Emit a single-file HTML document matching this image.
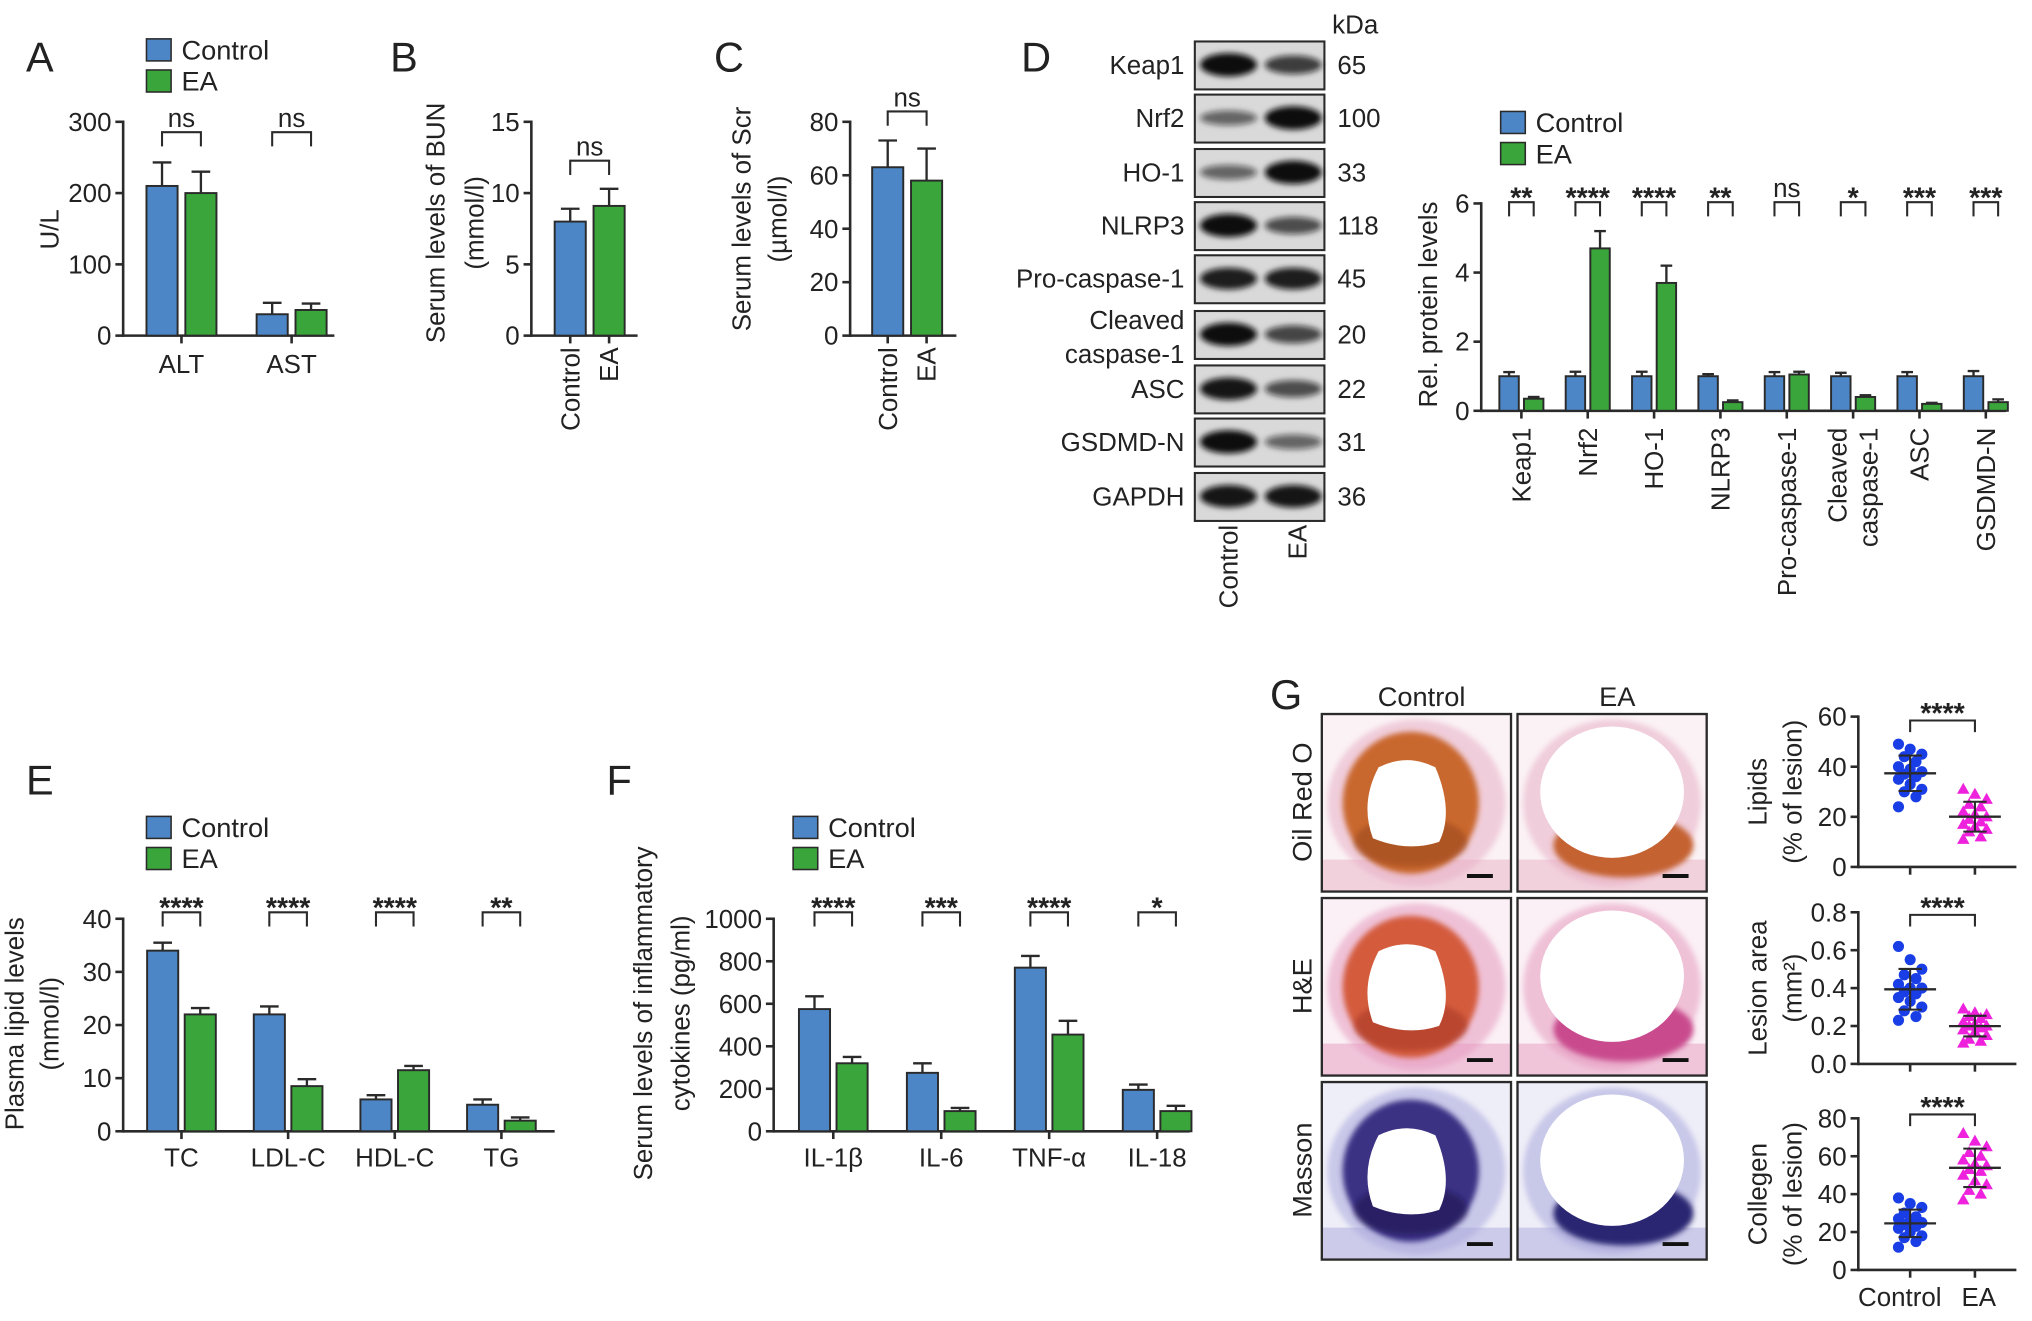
<!DOCTYPE html>
<html><head><meta charset="utf-8"><style>
body{margin:0;background:#fff}svg{display:block}
text{font-family:"Liberation Sans",Arial,sans-serif;fill:#222}
</style></head><body>
<svg id="fig" width="2032" height="1321" viewBox="0 0 1568 1019.4" xmlns="http://www.w3.org/2000/svg">
<defs><filter id="blur" x="-30%" y="-80%" width="160%" height="260%"><feGaussianBlur stdDeviation="2.2"/></filter>
<filter id="blur2"><feGaussianBlur stdDeviation="2"/></filter></defs>
</svg>
<script>
// ---------- data ----------
const aCats=['ALT','AST'];
const aCtrl=[210,30];
const aEA=[200,36];
const aCtrlErr=[33,16];
const aEAErr=[30,9];
const aSig=['ns','ns'];
const aTicks=[0,100,200,300];

const bCtrl=[8.0];
const bEA=[9.1];
const bCtrlErr=[0.9];
const bEAErr=[1.2];
const bSig=['ns'];
const bTicks=[0,5,10,15];

const cCtrl=[63];
const cEA=[58];
const cCtrlErr=[10];
const cEAErr=[12];
const cSig=['ns'];
const cTicks=[0,20,40,60,80];

const dCats=['Keap1','Nrf2','HO-1','NLRP3','Pro-caspase-1','Cleaved\ncaspase-1','ASC','GSDMD-N'];
const dCtrl=[1,1,1,1,1,1,1,1];
const dEA=[0.35,4.7,3.7,0.25,1.05,0.4,0.2,0.25];
const dCtrlErr=[0.12,0.13,0.13,0.06,0.12,0.1,0.12,0.15];
const dEAErr=[0.05,0.5,0.5,0.05,0.08,0.05,0.03,0.08];
const dSig=['**','****','****','**','ns','*','***','***'];
const dTicks=[0,2,4,6];

const blotProteins=['Keap1','Nrf2','HO-1','NLRP3','Pro-caspase-1','Cleaved\ncaspase-1','ASC','GSDMD-N','GAPDH'];
const blotKDa=['65','100','33','118','45','20','22','31','36'];
const blotCtrlInt=[1.0,0.45,0.45,1.0,0.9,1.0,0.95,1.0,0.95];
const blotEAInt=[0.7,1.0,1.0,0.6,0.9,0.65,0.6,0.45,0.95];

const eCats=['TC','LDL-C','HDL-C','TG'];
const eCtrl=[34,22,6,5];
const eEA=[22,8.5,11.5,2];
const eCtrlErr=[1.5,1.5,0.8,1.0];
const eEAErr=[1.2,1.3,0.8,0.6];
const eSig=['****','****','****','**'];
const eTicks=[0,10,20,30,40];

const fCats=['IL-1β','IL-6','TNF-α','IL-18'];
const fCtrl=[575,275,770,195];
const fEA=[320,95,455,95];
const fCtrlErr=[60,45,55,25];
const fEAErr=[30,15,65,25];
const fSig=['****','***','****','*'];
const fTicks=[0,200,400,600,800,1000];

const lipCtrl=[49,47,45,44,42,40,39,38,37,36,35,33,31,30,28,24];
const lipEA=[31,29,27,25,24,22,21,20,19,18,17,16,15,14,12,11];
const lipTicks=[0,20,40,60];
const lesCtrl=[0.62,0.55,0.50,0.47,0.45,0.42,0.40,0.40,0.38,0.37,0.35,0.33,0.30,0.28,0.25,0.23];
const lesEA=[0.29,0.27,0.26,0.25,0.24,0.22,0.21,0.20,0.20,0.19,0.18,0.17,0.15,0.13,0.12,0.11];
const lesTicks=[0,0.2,0.4,0.6,0.8];
const colCtrl=[38,35,33,30,28,27,26,25,24,23,22,20,18,17,15,12];
const colEA=[72,68,65,62,60,58,56,55,53,52,50,47,45,42,40,37];
const colTicks=[0,20,40,60,80];

// ---------- helpers ----------
const NS='http://www.w3.org/2000/svg';
const svg=document.getElementById('fig');
const BLUE='#4d86c6',GREEN='#3aa53a',INK='#2a2a2a';
function el(p,tag,attrs,t){const e=document.createElementNS(NS,tag);for(const k in attrs)e.setAttribute(k,attrs[k]);if(t!==undefined)e.textContent=t;p.appendChild(e);return e;}
function txt(p,x,y,s,size,anchor,name,rot,weight){
  const t=el(p,'text',{x:x,y:y,'font-size':size,'text-anchor':anchor||'middle'},s);
  if(rot)t.setAttribute('transform','rotate('+rot+' '+x+' '+y+')');
  if(weight)t.setAttribute('font-weight',weight);
  
  
  return t;}
function ln(p,x1,y1,x2,y2,name,w){
  const l=el(p,'line',{x1:x1,y1:y1,x2:x2,y2:y2,stroke:INK,'stroke-width':w||2});
  
  
  return l;}
function legend(x,y,name){
  const g=el(svg,'g',{});
  
  
  const r1=el(g,'rect',{x:x,y:y,width:19,height:17,fill:BLUE,stroke:INK,'stroke-width':1.2});
  
  
  txt(g,x+27,y+16,'Control',21,'start','legend-label-control');
  const r2=el(g,'rect',{x:x,y:y+24,width:19,height:17,fill:GREEN,stroke:INK,'stroke-width':1.2});
  
  
  txt(g,x+27,y+40,'EA',21,'start','legend-label-ea');
}
function rotTitle(p,lines,xs,cy,name){
  lines.forEach((s,i)=>{txt(p,xs[i]+7,cy,s,20,'middle',name+'-line'+(i+1),-90);});
}

function barChart(o){
  const g=el(svg,'g',{});
  
  
  const Y=v=>o.yZero-(v/o.max)*(o.yZero-o.yTop);
  ln(g,o.x0,o.yTop-1,o.x0,o.yZero+1,'y-axis');
  ln(g,o.x0,o.yZero,o.x1,o.yZero,'x-axis');
  o.ticks.forEach(v=>{
    ln(g,o.x0-6,Y(v),o.x0,Y(v),'y-tick');
    txt(g,o.x0-9,Y(v)+7,String(v),20,'end','y-tick-label');
  });
  o.ctrl.forEach((v,i)=>{
    const c=o.first+i*o.step;
    const cx1=c-o.gap/2-o.w/2, cx2=c+o.gap/2+o.w/2;
    [[cx1,v,o.ce[i],BLUE,'control'],[cx2,o.ea[i],o.ee[i],GREEN,'ea']].forEach(b=>{
      const top=Y(b[1]);
      ln(g,b[0],top,b[0],Y(b[1]+b[2]),'error-bar-'+b[4],1.8);
      ln(g,b[0]-o.w*0.3,Y(b[1]+b[2]),b[0]+o.w*0.3,Y(b[1]+b[2]),'error-cap-'+b[4],1.8);
      const r=el(g,'rect',{x:b[0]-o.w/2,y:top,width:o.w,height:o.yZero-top,fill:b[3],stroke:INK,'stroke-width':1.5});
      
      
    });
    const p=el(g,'path',{d:'M'+cx1+','+(o.brY+11)+'V'+o.brY+'H'+cx2+'V'+(o.brY+11),fill:'none',stroke:INK,'stroke-width':1.6});
    
    
    const s=o.sig[i];
    if(s==='ns')txt(g,c,o.brY-4,s,20,'middle','significance-label');
    else txt(g,c,o.brY+4,s,22,'middle','significance-label',0,'bold');
    if(o.barLabels){
      [[cx1,'Control'],[cx2,'EA']].forEach(b=>{
        ln(g,b[0],o.yZero,b[0],o.yZero+6,'x-tick');
        txt(g,b[0]+7,o.catY,b[1],20,'end','x-label-'+b[1].toLowerCase(),-90);
      });
    }else{
      ln(g,c,o.yZero,c,o.yZero+6,'x-tick');
      const parts=o.cats[i].split('\n');
      if(o.rotCats){
        if(parts.length===1)txt(g,c+7,o.catY,parts[0],20,'end','x-label',-90);
        else parts.forEach((s2,k)=>txt(g,c-5+k*24,o.catY,s2,20,'end','x-label',-90));
      }else txt(g,c,o.catY,parts[0],20,'middle','x-label');
    }
  });
  return g;
}

// ---------- panel letters ----------
[['A',20,55],['B',301,55],['C',551,55],['D',788,55],['E',20,613],['F',468,613],['G',980,547]].forEach(a=>{
  txt(svg,a[1],a[2],a[0],32,'start','panel-label-'+a[0].toLowerCase());
});

// ---------- A ----------
legend(113,30,'legend-a');
const gA=barChart({name:'chart-a',x0:95,x1:258,yZero:259,yTop:94,max:300,ticks:aTicks,cats:aCats,ctrl:aCtrl,ea:aEA,ce:aCtrlErr,ee:aEAErr,sig:aSig,first:140,step:85,w:24,gap:6,brY:102,catY:288});
rotTitle(gA,['U/L'],[38],177,'y-axis-title-a');
// ---------- B ----------
const gB=barChart({name:'chart-b',x0:410,x1:492,yZero:259,yTop:94,max:15,ticks:bTicks,cats:['x'],ctrl:bCtrl,ea:bEA,ce:bCtrlErr,ee:bEAErr,sig:bSig,first:455,step:0,w:24,gap:6,brY:124,catY:268,barLabels:true});
rotTitle(gB,['Serum levels of BUN','(mmol/l)'],[336,366],172,'y-axis-title-b');
// ---------- C ----------
const gC=barChart({name:'chart-c',x0:656,x1:738,yZero:259,yTop:94,max:80,ticks:cTicks,cats:['x'],ctrl:cCtrl,ea:cEA,ce:cCtrlErr,ee:cEAErr,sig:cSig,first:700,step:0,w:24,gap:6,brY:86,catY:268,barLabels:true});
rotTitle(gC,['Serum levels of Scr','(µmol/l)'],[572,600],169,'y-axis-title-c');

// ---------- D blot ----------
const gBlot=el(svg,'g',{});


txt(gBlot,1028,26,'kDa',20,'start','kda-header');
const rowY=[50,91,133,174,215,258,300,341,383];
blotProteins.forEach((p,i)=>{
  const y=rowY[i];
  const bg=el(gBlot,'rect',{x:922,y:y-18,width:100,height:37,fill:'#d9d9d9',stroke:INK,'stroke-width':1.6});
  
  
  [[948,blotCtrlInt[i],'control'],[998,blotEAInt[i],'ea']].forEach(b=>{
    const e=el(gBlot,'ellipse',{cx:b[0],cy:y,rx:22,ry:3+6*b[1],fill:'#111','fill-opacity':0.25+0.75*b[1],filter:'url(#blur)'});
    
    
  });
  const parts=p.split('\n');
  if(parts.length===1)txt(gBlot,914,y+7,p,20,'end','protein-label');
  else{txt(gBlot,914,y-4,parts[0],20,'end','protein-label');txt(gBlot,914,y+22,parts[1],20,'end','protein-label');}
  txt(gBlot,1032,y+7,blotKDa[i],20,'start','kda-label');
});
txt(gBlot,955,405,'Control',20,'end','blot-lane-control',-90);
txt(gBlot,1008,405,'EA',20,'end','blot-lane-ea',-90);

// ---------- D chart ----------
legend(1158,86,'legend-d');
const gD=barChart({name:'chart-d',x0:1143,x1:1548,yZero:317,yTop:157,max:6,ticks:dTicks,cats:dCats,ctrl:dCtrl,ea:dEA,ce:dCtrlErr,ee:dEAErr,sig:dSig,first:1174,step:51.2,w:15,gap:4,brY:156,catY:330,rotCats:true});
rotTitle(gD,['Rel. protein levels'],[1102],235,'y-axis-title-d');

// ---------- E ----------
legend(113,630,'legend-e');
const gE=barChart({name:'chart-e',x0:95,x1:428,yZero:873,yTop:709,max:40,ticks:eTicks,cats:eCats,ctrl:eCtrl,ea:eEA,ce:eCtrlErr,ee:eEAErr,sig:eSig,first:140,step:82.3,w:24,gap:5,brY:704,catY:900});
rotTitle(gE,['Plasma lipid levels','(mmol/l)'],[11,38],790,'y-axis-title-e');
// ---------- F ----------
legend(612,630,'legend-f');
const gF=barChart({name:'chart-f',x0:597,x1:918,yZero:873,yTop:709,max:1000,ticks:fTicks,cats:fCats,ctrl:fCtrl,ea:fEA,ce:fCtrlErr,ee:fEAErr,sig:fSig,first:643,step:83.3,w:24,gap:5,brY:704,catY:900});
rotTitle(gF,['Serum levels of inflammatory','cytokines (pg/ml)'],[496,525],782,'y-axis-title-f');

// ---------- G histology ----------
const gH=el(svg,'g',{});


txt(gH,1097,545,'Control',21,'middle','column-label-control');
txt(gH,1248,545,'EA',21,'middle','column-label-ea');
const stains=[
  {n:'Oil Red O',bg:'#fbf2f5',tis:'#e8afc4',pl:'#c9682f',pl2:'#c46230',dk:'#9c4a1e'},
  {n:'H&E',bg:'#fbf0f5',tis:'#e59ac0',pl:'#d45c3e',pl2:'#c94c8e',dk:'#a8362a'},
  {n:'Masson',bg:'#eeeef8',tis:'#a9a7dc',pl:'#3a3284',pl2:'#2c2672',dk:'#1c1650'}];
const rowsY=[551,693,835];
stains.forEach((s,r)=>{
  txt(gH,1012,rowsY[r]+68,s.n,21,'middle','row-label-'+r,-90);
  [[1020,'control'],[1171,'ea']].forEach((c,k)=>{
    const x=c[0],y=rowsY[r],w=146,h=137;
    const cell=el(gH,'g',{});
    
    
    el(cell,'rect',{x:x,y:y,width:w,height:h,fill:s.bg});
    el(cell,'ellipse',{cx:x+w*0.5,cy:y+h*0.5,rx:w*0.47,ry:h*0.47,fill:s.tis,'fill-opacity':0.55,filter:'url(#blur2)'});
    el(cell,'rect',{x:x,y:y+h*0.82,width:w,height:h*0.18,fill:s.tis,'fill-opacity':0.5});
    if(k===0){
      el(cell,'ellipse',{cx:x+w*0.47,cy:y+h*0.5,rx:w*0.36,ry:h*0.4,fill:s.pl,filter:'url(#blur2)'});
      el(cell,'ellipse',{cx:x+w*0.47,cy:y+h*0.72,rx:w*0.3,ry:h*0.14,fill:s.dk,'fill-opacity':0.6,filter:'url(#blur2)'});
      el(cell,'path',{d:'M'+(x+w*0.3)+','+(y+h*0.3)+'Q'+(x+w*0.45)+','+(y+h*0.22)+' '+(x+w*0.6)+','+(y+h*0.3)+'Q'+(x+w*0.7)+','+(y+h*0.55)+' '+(x+w*0.62)+','+(y+h*0.72)+'Q'+(x+w*0.45)+','+(y+h*0.78)+' '+(x+w*0.27)+','+(y+h*0.7)+'Q'+(x+w*0.2)+','+(y+h*0.5)+' '+(x+w*0.3)+','+(y+h*0.3)+'Z',fill:'#fff'});
    }else{
      el(cell,'ellipse',{cx:x+w*0.56,cy:y+h*0.74,rx:w*0.37,ry:h*0.18,fill:s.pl2,filter:'url(#blur2)'});
      el(cell,'ellipse',{cx:x+w*0.5,cy:y+h*0.44,rx:w*0.38,ry:h*0.37,fill:'#fff'});
    }
    el(cell,'line',{x1:x+w-34,y1:y+h-12,x2:x+w-14,y2:y+h-12,stroke:'#111','stroke-width':3});
    el(cell,'rect',{x:x,y:y,width:w,height:h,fill:'none',stroke:INK,'stroke-width':1.8});
  });
});

// ---------- G scatter ----------
function scatter(o){
  const g=el(svg,'g',{});
  
  
  const Y=v=>o.yZero-(v/o.max)*(o.yZero-o.yTop);
  ln(g,o.x0,o.yTop-1,o.x0,o.yZero+1,'y-axis');
  ln(g,o.x0,o.yZero,1556,o.yZero,'x-axis');
  o.ticks.forEach(v=>{
    ln(g,o.x0-6,Y(v),o.x0,Y(v),'y-tick');
    txt(g,o.x0-9,Y(v)+7,o.dec?v.toFixed(1):String(v),20,'end','y-tick-label');
  });
  [[1474,o.ctrl,'#1a3ee6','control'],[1524,o.ea,'#ee22dd','ea']].forEach(s=>{
    ln(g,s[0],o.yZero,s[0],o.yZero+6,'x-tick');
    s[1].forEach((v,i)=>{
      const dx=((i*7)%5-2)*4.5;
      let m;
      if(s[3]==='control')m=el(g,'circle',{cx:s[0]+dx,cy:Y(v),r:4.3,fill:s[2]});
      else{const px=s[0]+dx,py=Y(v);m=el(g,'path',{d:'M'+px+','+(py-5)+'L'+(px+4.8)+','+(py+3.5)+'L'+(px-4.8)+','+(py+3.5)+'Z',fill:s[2]});}
      
      
    });
    const n=s[1].length,mean=s[1].reduce((a,b)=>a+b,0)/n;
    const sd=Math.sqrt(s[1].reduce((a,b)=>a+(b-mean)*(b-mean),0)/(n-1));
    ln(g,s[0]-20,Y(mean),s[0]+20,Y(mean),'mean-line-'+s[3],1.8);
    ln(g,s[0],Y(mean+sd),s[0],Y(mean-sd),'sd-line-'+s[3],1.6);
    ln(g,s[0]-9,Y(mean+sd),s[0]+9,Y(mean+sd),'sd-cap-'+s[3],1.6);
    ln(g,s[0]-9,Y(mean-sd),s[0]+9,Y(mean-sd),'sd-cap-'+s[3],1.6);
  });
  const p=el(g,'path',{d:'M1474,'+(o.brY+9)+'V'+o.brY+'H1524V'+(o.brY+9),fill:'none',stroke:INK,'stroke-width':1.6});
  
  
  txt(g,1499,o.brY+2,'****',22,'middle','significance-label',0,'bold');
  rotTitle(g,o.title,[1356,1383],(o.yTop+o.yZero)/2,o.name+'-title');
  return g;
}
scatter({name:'scatter-lipids',x0:1434,yTop:553,yZero:669,max:60,ticks:lipTicks,ctrl:lipCtrl,ea:lipEA,brY:556,title:['Lipids','(% of lesion)']});
scatter({name:'scatter-lesion-area',x0:1434,yTop:704,yZero:821,max:0.8,ticks:lesTicks,dec:true,ctrl:lesCtrl,ea:lesEA,brY:706,title:['Lesion area','(mm²)']});
scatter({name:'scatter-collagen',x0:1434,yTop:863,yZero:980,max:80,ticks:colTicks,ctrl:colCtrl,ea:colEA,brY:860,title:['Collegen','(% of lesion)']});
txt(svg,1466,1008,'Control',20,'middle','scatter-x-label-control');
txt(svg,1527,1008,'EA',20,'middle','scatter-x-label-ea');
</script>
</body></html>
